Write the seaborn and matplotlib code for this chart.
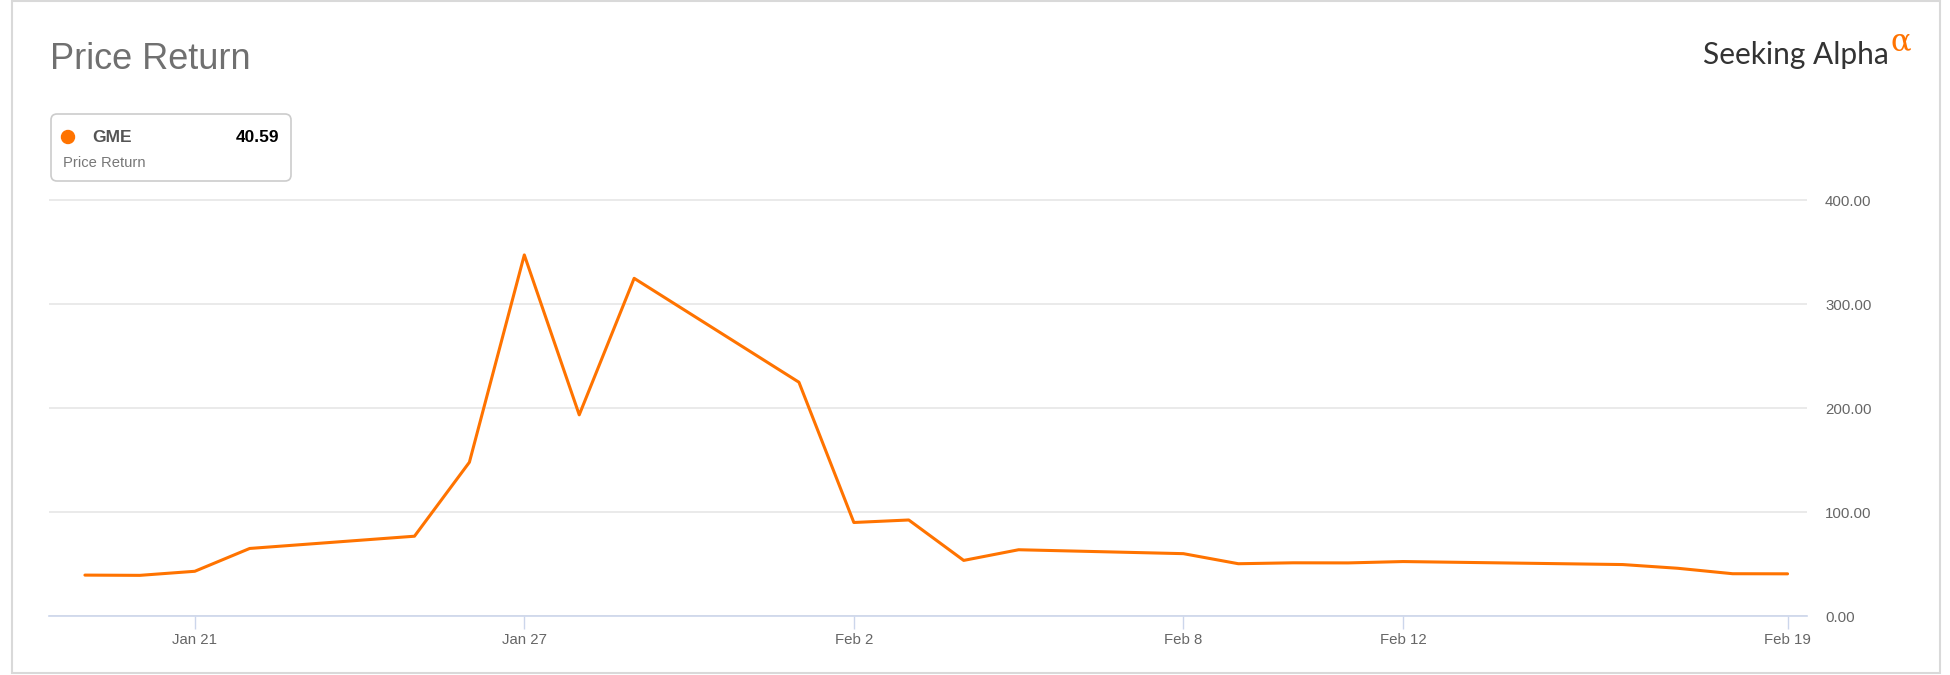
import pandas as pd
import seaborn as sns
from matplotlib import pyplot as plt
from matplotlib.patches import FancyBboxPatch, Circle, Rectangle
from matplotlib.transforms import IdentityTransform

# GME closing prices, trading days only
dates = ["2021-01-19", "2021-01-20", "2021-01-21", "2021-01-22", "2021-01-25",
         "2021-01-26", "2021-01-27", "2021-01-28", "2021-01-29", "2021-02-01",
         "2021-02-02", "2021-02-03", "2021-02-04", "2021-02-05", "2021-02-08",
         "2021-02-09", "2021-02-10", "2021-02-11", "2021-02-12", "2021-02-16",
         "2021-02-17", "2021-02-18", "2021-02-19"]
gme = [39.36, 39.12, 43.03, 65.01, 76.79,
       147.98, 347.51, 193.60, 325.00, 225.00,
       90.00, 92.41, 53.50, 63.77, 60.00,
       50.31, 51.20, 51.10, 52.40, 49.51,
       45.94, 40.69, 40.59]
xtick_dates = ["2021-01-21", "2021-01-27", "2021-02-02", "2021-02-08", "2021-02-12", "2021-02-19"]
xtick_labels = ["Jan 21", "Jan 27", "Feb 2", "Feb 8", "Feb 12", "Feb 19"]
yticks = [0, 100, 200, 300, 400]
last_value = "40.59"

ORANGE = '#ff7300'
AXIS = '#ccd6eb'
W, H = 1950, 675

df = pd.DataFrame({'date': pd.to_datetime(dates), 'value': gme})

sns.set_style('white')
plt.rcParams['font.family'] = ['Liberation Sans', 'DejaVu Sans']

fig = plt.figure(figsize=(W / 100, H / 100), dpi=100)
ax = fig.add_axes([49 / W, (H - 616) / H, 1758 / W, 426 / H])

sns.lineplot(data=df, x='date', y='value', ax=ax, color=ORANGE, linewidth=2.2)

ax.set_xlim(df['date'].iloc[0] - pd.Timedelta(hours=15.7),
            df['date'].iloc[-1] + pd.Timedelta(hours=8.5))
ax.set_ylim(0, 410)
ax.set_xlabel('')
ax.set_ylabel('')

ax.set_xticks(pd.to_datetime(xtick_dates))
ax.set_xticklabels(xtick_labels)
ax.set_yticks(yticks)
ax.set_yticklabels([f'{v:.2f}' for v in yticks])
ax.yaxis.tick_right()

ax.tick_params(axis='x', direction='out', length=9, width=1, color=AXIS,
               labelsize=10.8, labelcolor='#666666', pad=3, bottom=True)
ax.tick_params(axis='y', length=0, labelsize=10.8, labelcolor='#666666', pad=13)

ax.grid(axis='y', color='#e6e6e6', linewidth=1.2)
ax.grid(axis='x', visible=False)
for s in ['top', 'left', 'right']:
    ax.spines[s].set_visible(False)
ax.spines['bottom'].set_color(AXIS)
ax.spines['bottom'].set_linewidth(1.2)
ax.set_axisbelow(True)

# outer frame
fig.add_artist(Rectangle((12, H - 673), 1928, 672, transform=IdentityTransform(),
                         fill=False, edgecolor='#d9d9d9', linewidth=1.5))

# title
fig.text(50, H - 69, 'Price Return', transform=IdentityTransform(),
         fontsize=26, color='#707070', va='baseline', ha='left')

# legend card
fig.add_artist(FancyBboxPatch((51, H - 181), 240, 67,
                              boxstyle='round,pad=0,rounding_size=6',
                              transform=IdentityTransform(),
                              facecolor='white', edgecolor='#cccccc', linewidth=1.2))
fig.add_artist(Circle((68, H - 137), 6.5, transform=IdentityTransform(),
                      color=ORANGE))
fig.text(92, H - 137, 'GME', transform=IdentityTransform(), fontsize=12.5,
         fontweight='bold', color='#555555', va='center', ha='left')
fig.text(279, H - 137, last_value, transform=IdentityTransform(), fontsize=12.5,
         fontweight='bold', color='black', va='center', ha='right')
fig.text(63, H - 163, 'Price Return', transform=IdentityTransform(), fontsize=10.6,
         color='#777777', va='center', ha='left')

# logo
fig.text(1889, H - 64, 'Seeking Alpha', transform=IdentityTransform(),
         fontsize=21.5, color='#333333', va='baseline', ha='right', family='Lato')
fig.text(1891, H - 50, 'α', transform=IdentityTransform(),
         fontsize=22, color=ORANGE, va='baseline', ha='left', family='DejaVu Serif')

fig.savefig('out.png', dpi=100)
